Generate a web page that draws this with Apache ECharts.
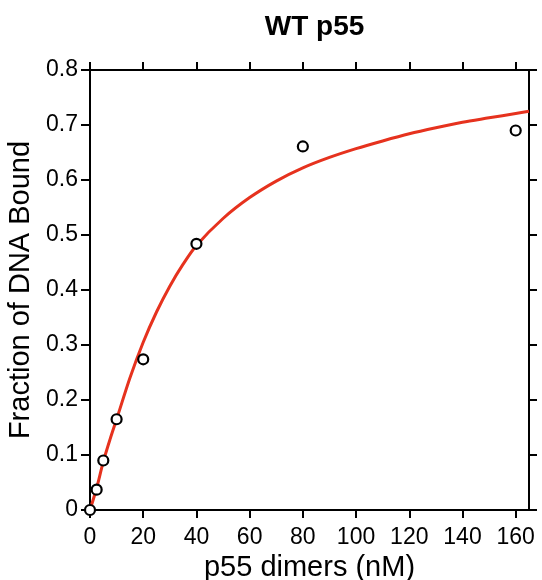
<!DOCTYPE html>
<html>
<head>
<meta charset="utf-8">
<script src="https://cdn.jsdelivr.net/npm/echarts@6/dist/echarts.min.js"></script>
<style>
html,body{margin:0;padding:0;background:#fff;}
#chart{width:542px;height:580px;}
</style>
</head>
<body>
<div id="chart"></div>
<script>
// Measured data points (p55 dimers nM, fraction bound)
var pointX = [0, 2.5, 5, 10, 20, 40, 80, 160];
var pointY = [0, 0.037, 0.09, 0.165, 0.274, 0.484, 0.661, 0.690];
// Fitted curve
var curveX = [0, 2.5, 5, 7.5, 10, 15, 20, 25, 30, 35, 40, 50, 60, 70, 80, 90, 100, 110, 120, 130, 140, 150, 160, 165];
var curveY = [0, 0.04, 0.088, 0.128, 0.165, 0.24, 0.305, 0.36, 0.407, 0.447, 0.481, 0.53, 0.568, 0.598, 0.622, 0.641, 0.657, 0.671, 0.684, 0.695, 0.705, 0.713, 0.721, 0.725];
var xTicks = [0, 20, 40, 60, 80, 100, 120, 140, 160];
var yTicks = [0, 0.1, 0.2, 0.3, 0.4, 0.5, 0.6, 0.7, 0.8];
var titleText = 'WT p55';
var xName = 'p55 dimers (nM)';
var yName = 'Fraction of DNA Bound';

var font = '"Liberation Sans", Arial, Helvetica, sans-serif';
var chart = echarts.init(document.getElementById('chart'), null, {renderer: 'canvas'});
var lineStyle = {color: '#000', width: 2};
var tickStyle = {color: '#000', width: 2};

function yLabel(v) {
  if (Math.abs(v) < 1e-9) return '0';
  return v.toFixed(1);
}

var option = {
  backgroundColor: '#fff',
  animation: false,
  title: {
    text: titleText,
    left: 309.5,
    textAlign: 'center',
    top: 8,
    textStyle: {fontFamily: font, fontSize: 28, fontWeight: 'bold', color: '#000'}
  },
  grid: {left: 90, right: 13, top: 70, bottom: 70, containLabel: false, outerBoundsMode: 'none'},
  xAxis: [{
    type: 'value', min: 0, max: 165, position: 'bottom',
    name: xName, nameLocation: 'middle', nameGap: 30,
    nameTextStyle: {fontFamily: font, fontSize: 29, color: '#000'},
    axisLine: {show: true, onZero: false, lineStyle: lineStyle},
    axisTick: {show: true, inside: false, length: 8, lineStyle: tickStyle, customValues: xTicks},
    axisLabel: {show: true, margin: 16, fontFamily: font, fontSize: 23, color: '#000', customValues: xTicks},
    splitLine: {show: false}
  }, {
    type: 'value', min: 0, max: 165, position: 'top',
    axisLine: {show: true, onZero: false, lineStyle: lineStyle},
    axisTick: {show: true, inside: false, length: 8, lineStyle: tickStyle, customValues: xTicks},
    axisLabel: {show: false},
    splitLine: {show: false}
  }],
  yAxis: [{
    type: 'value', min: 0, max: 0.8, position: 'left',
    name: yName, nameLocation: 'middle', nameGap: 50,
    nameTextStyle: {fontFamily: font, fontSize: 29, color: '#000'},
    axisLine: {show: true, onZero: false, lineStyle: lineStyle},
    axisTick: {show: true, inside: false, length: 9, lineStyle: tickStyle, customValues: yTicks},
    axisLabel: {show: true, margin: 12, fontFamily: font, fontSize: 23, color: '#000', customValues: yTicks, formatter: yLabel},
    splitLine: {show: false}
  }, {
    type: 'value', min: 0, max: 0.8, position: 'right',
    axisLine: {show: true, onZero: false, lineStyle: lineStyle},
    axisTick: {show: true, inside: false, length: 8, lineStyle: tickStyle, customValues: yTicks},
    axisLabel: {show: false},
    splitLine: {show: false}
  }],
  series: [{
    type: 'line',
    xAxisIndex: 0, yAxisIndex: 0,
    data: curveX.map(function (x, i) { return [x, curveY[i]]; }),
    smooth: 0.3,
    showSymbol: false,
    symbol: 'none',
    clip: true,
    lineStyle: {color: '#e6321e', width: 3},
    z: 2
  }, {
    type: 'scatter',
    xAxisIndex: 0, yAxisIndex: 0,
    data: pointX.map(function (x, i) { return [x, pointY[i]]; }),
    symbol: 'circle',
    symbolSize: 10,
    clip: false,
    itemStyle: {color: '#fff', borderColor: '#000', borderWidth: 2.2, opacity: 1},
    z: 5
  }]
};
chart.setOption(option);
</script>
</body>
</html>
